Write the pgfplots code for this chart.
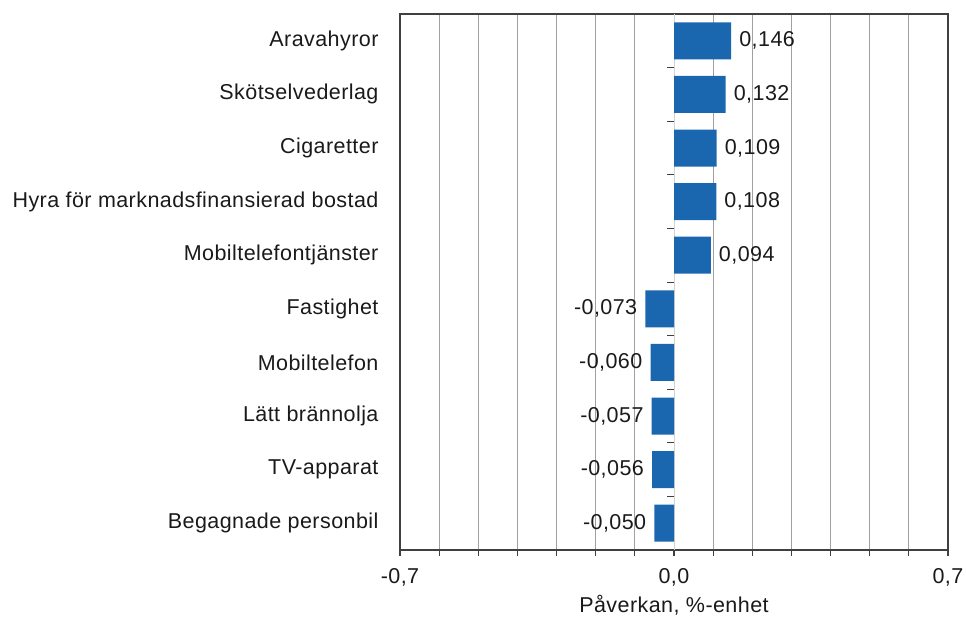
\documentclass[border=0pt]{standalone}
\usepackage{fontspec}
\setmainfont{Liberation Sans}[LetterSpace=2]
\usepackage{pgfplots}
\pgfplotsset{compat=1.18}
\definecolor{barblue}{HTML}{1A67B0}
\definecolor{gridgray}{HTML}{A0A0A0}
\definecolor{axgray}{HTML}{404040}
\definecolor{txt}{HTML}{1A1A1A}
\newcommand{\lblfont}{\fontsize{21.5}{24}\selectfont}
\begin{document}
\begin{tikzpicture}[x=1pt,y=1pt]
\path[use as bounding box] (-400,-75) rectangle (566,550);
\begin{axis}[
  at={(0,0)}, anchor=south west,
  scale only axis, width=548pt, height=536pt,
  xmin=-0.7, xmax=0.7, ymin=-0.5, ymax=9.5, y dir=reverse,
  xbar, bar width=37pt, bar shift=0pt,
  /pgf/number format/assume math mode=true,
  xtick={-0.7,0,0.7}, xticklabels={{-0,7},{0,0},{0,7}},
  minor xtick={-0.6,-0.5,-0.4,-0.3,-0.2,-0.1,0.1,0.2,0.3,0.4,0.5,0.6},
  xminorgrids, minor grid style={gridgray, line width=1.1pt},
  tick align=outside, xtick pos=bottom, ytick pos=left,
  major tick length=6pt, minor tick length=6pt,
  xtick style={axgray, line width=1.1pt},
  ytick style={draw=none},
  ytick={0,...,9},
  yticklabels={Aravahyror,Skötselvederlag,Cigaretter,Hyra för marknadsfinansierad bostad,Mobiltelefontjänster,Fastighet,Mobiltelefon,Lätt brännolja,TV-apparat,Begagnade personbil},
  tick label style={font=\lblfont, text=txt},
  yticklabel style={anchor=east, xshift=-12pt},
  xticklabel style={yshift=-9pt},
  xlabel={Påverkan, \%-enhet},
  xlabel style={font=\lblfont, text=txt, yshift=-2pt},
  axis line style={axgray, line width=1.1pt},
  point meta=x,
  nodes near coords={\pgfmathprintnumber[fixed,fixed zerofill,precision=3,use comma,assume math mode=true]{\pgfplotspointmeta}},
  nodes near coords style={font=\lblfont, text=txt, inner xsep=8pt},
]
\draw[gray!35, line width=1pt] (axis cs:0,-0.5) -- (axis cs:0,9.5);
\addplot[fill=barblue, draw=none] coordinates {
  (0.146,0) (0.132,1) (0.109,2) (0.108,3) (0.094,4)
  (-0.073,5) (-0.060,6) (-0.057,7) (-0.056,8) (-0.050,9)
};
\draw[axgray, line width=1pt] (axis cs:0,0.5) -- ([xshift=-7pt]axis cs:0,0.5);
\draw[axgray, line width=1pt] (axis cs:0,1.5) -- ([xshift=-7pt]axis cs:0,1.5);
\draw[axgray, line width=1pt] (axis cs:0,2.5) -- ([xshift=-7pt]axis cs:0,2.5);
\draw[axgray, line width=1pt] (axis cs:0,3.5) -- ([xshift=-7pt]axis cs:0,3.5);
\draw[axgray, line width=1pt] (axis cs:0,4.5) -- ([xshift=-7pt]axis cs:0,4.5);
\draw[axgray, line width=1pt] (axis cs:0,5.5) -- ([xshift=-7pt]axis cs:0,5.5);
\draw[axgray, line width=1pt] (axis cs:0,6.5) -- ([xshift=-7pt]axis cs:0,6.5);
\draw[axgray, line width=1pt] (axis cs:0,7.5) -- ([xshift=-7pt]axis cs:0,7.5);
\draw[axgray, line width=1pt] (axis cs:0,8.5) -- ([xshift=-7pt]axis cs:0,8.5);
\end{axis}
\end{tikzpicture}
\end{document}
